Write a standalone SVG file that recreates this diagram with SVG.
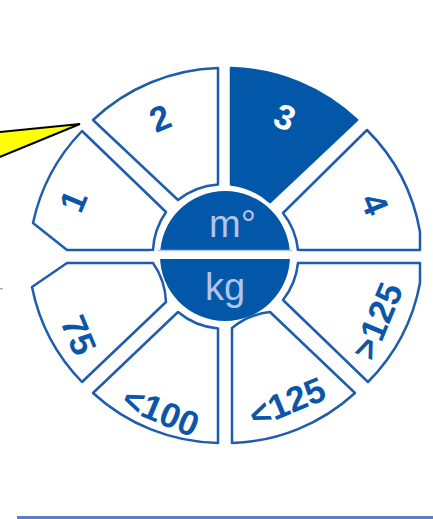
<svg xmlns="http://www.w3.org/2000/svg" width="433" height="519" viewBox="0 0 433 519">
<style>
.seg{fill:#ffffff;stroke:#1f5cad;stroke-width:2.5;stroke-linejoin:round}
.segf{fill:#0357a8;stroke:#0357a8;stroke-width:2.5;stroke-linejoin:round}
.lbl{font-family:"Liberation Sans",Arial,sans-serif;font-weight:bold;font-size:35px;fill:#0b56a8;text-anchor:middle;dominant-baseline:central}
.lblw{fill:#ffffff}
.ctr{font-family:"Liberation Sans",Arial,sans-serif;font-size:38px;fill:#b3c3ea}
</style>
<rect width="433" height="519" fill="#ffffff"/>
<g id="callout">
<polygon points="-10,133 80,124 -10,161" fill="#ffff00" stroke="#000000" stroke-width="2"/>
<rect x="0" y="288" width="3" height="1.5" fill="#aaaaaa"/>
</g>
<g id="seg1">
<path class="seg" d="M153,250 L67,250 L33,223 A190 190 0 0 1 82,131 L166,212 A73 73 0 0 0 153,250 Z"/>
<text class="lbl" transform="translate(73,201) rotate(-67.5)">1</text>
</g>
<g id="seg2">
<path class="seg" d="M218,184.5 L218,68 A190 190 0 0 0 93,120 L178,200 A72 72 0 0 1 218,184.5 Z"/>
<text class="lbl" transform="translate(160,118) rotate(-22.5)">2</text>
</g>
<g id="seg3">
<path class="segf" d="M231,68 A190 190 0 0 1 357,120 L270,202 A72 72 0 0 0 231,184.5 Z"/>
<text class="lbl lblw" transform="translate(285,117) rotate(22.5)">3</text>
</g>
<g id="seg4">
<path class="seg" d="M283,213 L367,130 A190 190 0 0 1 420,232 L420,250 L298,250 A72 72 0 0 0 283,213 Z"/>
<text class="lbl" transform="translate(375,204) rotate(67.5)">4</text>
</g>
<g id="seg75">
<path class="seg" d="M153,263 L67,263 L32,287 A190 190 0 0 0 82,382 L166,302 A72 72 0 0 0 153,263 Z"/>
<text class="lbl" transform="translate(79,335) rotate(67.5)">75</text>
</g>
<g id="seg100">
<path class="seg" d="M93,393 L178,312 A72 72 0 0 0 218,328.5 L218,443 A190 190 0 0 1 93,393 Z"/>
<text class="lbl" transform="translate(161,411) rotate(22.5)">&lt;100</text>
</g>
<g id="seg125">
<path class="seg" d="M232,328 L232,443 A190 190 0 0 0 355,393 L270,312 A72 72 0 0 0 232,328 Z"/>
<text class="lbl" transform="translate(287,402) rotate(-22.5)">&lt;125</text>
</g>
<g id="seggt125">
<path class="seg" d="M298,263 L420,263 L420,283 A190 190 0 0 1 368,382 L283,300 A72 72 0 0 0 298,263 Z"/>
<text class="lbl" transform="translate(377,321) rotate(-67.5)">&gt;125</text>
</g>
<g id="center">
<circle cx="225" cy="256" r="65" fill="#0357a8"/>
<rect x="150" y="251" width="150" height="8" fill="#ffffff"/>
<line x1="158" y1="250.5" x2="292" y2="250.5" stroke="#b6c4e8" stroke-width="1.5"/>
<text class="ctr" x="209" y="237">m°</text>
<text class="ctr" x="225" y="300" text-anchor="middle">kg</text>
</g>
<g id="connectors">
<rect x="17" y="516" width="416" height="3" fill="#5a7fc4"/>
</g>
</svg>
